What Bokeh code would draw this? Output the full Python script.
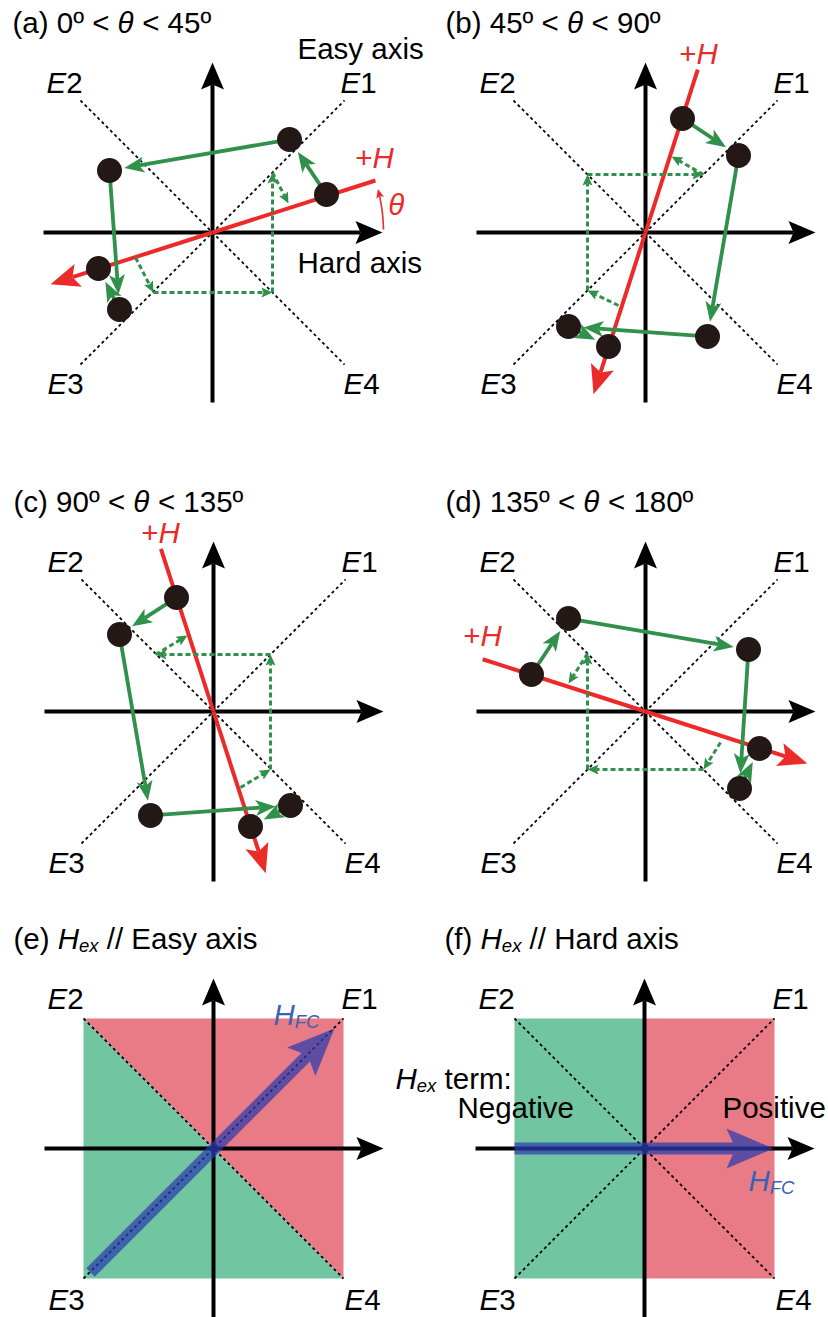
import math
import numpy as np
from bokeh.plotting import figure
from bokeh.models import Range1d
from bokeh.embed import file_html
from bokeh.resources import INLINE
from bokeh.core.properties import value

# ---------------- data ----------------
h_panels = ["a", "b", "c", "d"]
h_angle_deg = [17.7, 72.2, 107.9, 162.2]          # direction of +H in panels a-d

# magnetization states (black dots), local coords, in switching order
dots_a_x = [114, 77, -103, -93, -114]
dots_a_y = [38, 93, 62, -77, -36]
dots_b_x = [37, 93, 62, -77, -37]
dots_b_y = [114, 77, -104, -94, -114]
dots_c_x = [-37, -94, -63, 77, 37]
dots_c_y = [114, 77, -104, -94, -115]
dots_d_x = [-114, -77, 103, 94, 114]
dots_d_y = [37, 93, 62, -77, -37]

# projection path (green dashed arrows), local coords
proj_a_x = [-77, -59, 60, 60, 76]
proj_a_y = [-25, -60, -60, 60, 29]
proj_b_x = [-27, -58, -58, 58, 26]
proj_b_y = [-73, -58, 58, 58, 76]
proj_c_x = [27, 57, 57, -58, -26]
proj_c_y = [-76, -58, 57, 57, 76]
proj_d_x = [75, 58, -58, -58, -77]
proj_d_y = [-31, -58, -58, 58, 28]

easy_labels = ["1", "2", "3", "4"]

# H_FC arrows (panels e, f): tail -> tip, local coords
hfc_e = [(-123, -124), (121, 120)]
hfc_f = [(-130, 0), (129, 0)]

titles = {
    "a": [("(a) 0º < ", "n"), ("θ", "i"), (" < 45º", "n")],
    "b": [("(b) 45º < ", "n"), ("θ", "i"), (" < 90º", "n")],
    "c": [("(c) 90º < ", "n"), ("θ", "i"), (" < 135º", "n")],
    "d": [("(d) 135º < ", "n"), ("θ", "i"), (" < 180º", "n")],
    "e": [("(e) ", "n"), ("H", "i"), ("ex", "s"), (" // Easy axis", "n")],
    "f": [("(f) ", "n"), ("H", "i"), ("ex", "s"), (" // Hard axis", "n")],
}

# ---------------- layout / style ----------------
IMG_W, IMG_H = 828, 1317
centers = {"a": (212, 232), "b": (645, 232), "c": (213, 711),
           "d": (645, 711), "e": (213, 1148), "f": (644, 1148)}
RED = "#EC2A2A"
GREEN = "#30914A"
DOT = "#231815"
BLUE_TXT = "#3A62B4"
BLUE = "#2A3CAE"
FILL_RED = "#E97B86"
FILL_GREEN = "#72C5A1"
FONT = "Liberation Sans"
FS = 29.5
SUB = 18.5

W_EM = {' ': .278, '(': .333, ')': .333, 'a': .556, 'b': .556, 'c': .5, 'd': .556,
        'e': .556, 'f': .278, 'º': .365, '<': .584, 'θ': .556, 'E': .667, 'H': .722,
        'x': .5, '/': .278, 'y': .5, 's': .5, 'i': .222, 'r': .333, 't': .278,
        'm': .833, ':': .278, 'F': .611, 'C': .722, '+': .584, 'h': .556, 'k': .5,
        'N': .722, 'g': .556, 'v': .5, 'P': .667, 'o': .556}


def text_width(s, size):
    return sum(W_EM.get(ch, .556) for ch in s) * size


def gx(pid, lx):
    return centers[pid][0] + np.asarray(lx, dtype=float)


def gy(pid, ly):
    return IMG_H - centers[pid][1] + np.asarray(ly, dtype=float)


LINES = {k: {"xs": [], "ys": []} for k in ["diag", "axis", "red", "redthin", "gdash", "gsolid"]}
LINE_STYLE = {
    "diag": dict(line_color="black", line_width=1.8, line_dash="3 3"),
    "axis": dict(line_color="black", line_width=4),
    "red": dict(line_color=RED, line_width=4),
    "redthin": dict(line_color=RED, line_width=1.6),
    "gdash": dict(line_color=GREEN, line_width=3, line_dash="5 3"),
    "gsolid": dict(line_color=GREEN, line_width=3.8),
}
PATCHES = {k: {"xs": [], "ys": []} for k in ["fill_red", "fill_green", "axis", "red", "green", "blue"]}
PATCH_STYLE = {
    "fill_red": dict(fill_color=FILL_RED, line_color=None),
    "fill_green": dict(fill_color=FILL_GREEN, line_color=None),
    "axis": dict(fill_color="black", line_color=None),
    "red": dict(fill_color=RED, line_color=None),
    "green": dict(fill_color=GREEN, line_color=None),
    "blue": dict(fill_color=BLUE, fill_alpha=0.72, line_color=None),
}
T = {}


def add_line(key, xs, ys):
    LINES[key]["xs"].append(list(map(float, xs)))
    LINES[key]["ys"].append(list(map(float, ys)))


def add_patch(key, xs, ys):
    PATCHES[key]["xs"].append(list(map(float, xs)))
    PATCHES[key]["ys"].append(list(map(float, ys)))


def head_poly(tx, ty, ux, uy, L, W, N):
    nx, ny = -uy, ux
    bx, by = tx - L * ux, ty - L * uy
    xs = [tx, bx + W * nx, tx - (L - N) * ux, bx - W * nx]
    ys = [ty, by + W * ny, ty - (L - N) * uy, by - W * ny]
    return xs, ys


def arrow(lkey, hkey, x0, y0, x1, y1, L, W, N):
    dx, dy = x1 - x0, y1 - y0
    d = math.hypot(dx, dy)
    ux, uy = dx / d, dy / d
    add_line(lkey, [x0, x1 - (L - N) * ux], [y0, y1 - (L - N) * uy])
    add_patch(hkey, *head_poly(x1, y1, ux, uy, L, W, N))


def add_runs(x_left, y_mid, runs, color):
    x = float(x_left)
    for s, st in runs:
        if st == "s":
            style, size, dy = "italic", SUB, -7
        elif st == "i":
            style, size, dy = "italic", FS, 0
        else:
            style, size, dy = "normal", FS, 0
        lead = len(s) - len(s.lstrip(" "))
        x += text_width(" " * lead, size)
        s2 = s.lstrip(" ")
        key = (style, size, color)
        T.setdefault(key, {"x": [], "y": [], "text": []})
        T[key]["x"].append(x)
        T[key]["y"].append(float(y_mid + dy))
        T[key]["text"].append(s2)
        x += text_width(s2, size)


def runs_width(runs):
    tot = 0
    for s, st in runs:
        tot += text_width(s, SUB if st == "s" else FS)
    return tot


# ---------------- common frame for each panel ----------------
E_pos = [(146, 150), (-148, 150), (-147, -151), (149, -151)]
for pid in ["a", "b", "c", "d", "e", "f"]:
    half = 132 if pid in h_panels else 130
    if pid == "e":
        add_patch("fill_red", gx(pid, [-half, half, half]), gy(pid, [half, half, -half]))
        add_patch("fill_green", gx(pid, [-half, -half, half]), gy(pid, [half, -half, -half]))
    if pid == "f":
        add_patch("fill_green", gx(pid, [-half, 0, 0, -half]), gy(pid, [half, half, -half, -half]))
        add_patch("fill_red", gx(pid, [0, half, half, 0]), gy(pid, [half, half, -half, -half]))
    add_line("diag", gx(pid, [-half, half]), gy(pid, [half, -half]))
    add_line("diag", gx(pid, [-half, half]), gy(pid, [-half, half]))
    bottom = -176 if pid in ("e", "f") else -170
    arrow("axis", "axis", gx(pid, -169), gy(pid, 0), gx(pid, 170), gy(pid, 0), 27, 11.5, 5)
    arrow("axis", "axis", gx(pid, 0), gy(pid, bottom), gx(pid, 0), gy(pid, 170), 27, 11.5, 5)
    for lab, (lx, ly) in zip(easy_labels, E_pos):
        runs = [("E", "i"), (lab, "n")]
        w = runs_width(runs)
        add_runs(gx(pid, lx) - w / 2, gy(pid, ly), runs, "black")
    add_runs(gx(pid, -200), gy(pid, 210), titles[pid], "black")

# ---------------- field-rotation panels a-d ----------------
dots = {"a": (dots_a_x, dots_a_y), "b": (dots_b_x, dots_b_y),
        "c": (dots_c_x, dots_c_y), "d": (dots_d_x, dots_d_y)}
proj = {"a": (proj_a_x, proj_a_y), "b": (proj_b_x, proj_b_y),
        "c": (proj_c_x, proj_c_y), "d": (proj_d_x, proj_d_y)}
hlabel_pos = {"a": (162, 75), "b": (53, 179), "c": (-53, 179), "d": (-163, 76)}

dot_x, dot_y = [], []
for pid, ang in zip(h_panels, h_angle_deg):
    t = math.radians(ang)
    ux, uy = math.cos(t), math.sin(t)
    add_line("red", gx(pid, [0, 171 * ux]), gy(pid, [0, 171 * uy]))
    arrow("red", "red", gx(pid, 0), gy(pid, 0), gx(pid, -170 * ux), gy(pid, -170 * uy), 29, 12, 6)
    runs = [("+", "n"), ("H", "i")]
    w = runs_width(runs)
    hx, hy = hlabel_pos[pid]
    add_runs(gx(pid, hx) - w / 2, gy(pid, hy), runs, RED)
    px, py = proj[pid]
    for i in range(len(px) - 1):
        arrow("gdash", "green", gx(pid, px[i]), gy(pid, py[i]),
              gx(pid, px[i + 1]), gy(pid, py[i + 1]), 11, 5, 2)
    dx_, dy_ = dots[pid]
    for i in range(len(dx_) - 1):
        x0, y0, x1, y1 = dx_[i], dy_[i], dx_[i + 1], dy_[i + 1]
        d = math.hypot(x1 - x0, y1 - y0)
        vx, vy = (x1 - x0) / d, (y1 - y0) / d
        arrow("gsolid", "green", gx(pid, x0 + 8 * vx), gy(pid, y0 + 8 * vy),
              gx(pid, x1 - 15 * vx), gy(pid, y1 - 15 * vy), 20, 8, 5)
    dot_x.extend(gx(pid, dx_).tolist())
    dot_y.extend(gy(pid, dy_).tolist())

# angle arc + theta label in (a)
th = h_angle_deg[0]
r = 171
aL = 9
t_end = math.radians(th - 3)
tt = np.linspace(math.radians(1), t_end - (aL - 2) / r, 30)
add_line("redthin", gx("a", r * np.cos(tt)), gy("a", r * np.sin(tt)))
add_patch("red", *head_poly(float(gx("a", r * math.cos(t_end))), float(gy("a", r * math.sin(t_end))),
                            -math.sin(t_end), math.cos(t_end), aL, 4, 2))
tw = text_width("θ", FS)
add_runs(gx("a", 184) - tw / 2, gy("a", 28), [("θ", "i")], RED)
add_runs(gx("a", 85), gy("a", 184), [("Easy axis", "n")], "black")
add_runs(gx("a", 85), gy("a", -30), [("Hard axis", "n")], "black")


# ---------------- H_FC arrows (e, f) ----------------
def blue_arrow(pid, tail, tip, hw=6, L=47, W=20, N=9):
    x0, y0 = float(gx(pid, tail[0])), float(gy(pid, tail[1]))
    x1, y1 = float(gx(pid, tip[0])), float(gy(pid, tip[1]))
    d = math.hypot(x1 - x0, y1 - y0)
    ux, uy = (x1 - x0) / d, (y1 - y0) / d
    nx, ny = -uy, ux
    s = (L - N) + N * (hw / W)
    pts = [
        (x0 + hw * nx, y0 + hw * ny),
        (x1 - s * ux + hw * nx, y1 - s * uy + hw * ny),
        (x1 - L * ux + W * nx, y1 - L * uy + W * ny),
        (x1, y1),
        (x1 - L * ux - W * nx, y1 - L * uy - W * ny),
        (x1 - s * ux - hw * nx, y1 - s * uy - hw * ny),
        (x0 - hw * nx, y0 - hw * ny),
    ]
    add_patch("blue", [p_[0] for p_ in pts], [p_[1] for p_ in pts])


blue_arrow("e", hfc_e[0], hfc_e[1])
blue_arrow("f", hfc_f[0], hfc_f[1])
add_runs(gx("e", 60), gy("e", 134), [("H", "i"), ("FC", "s")], BLUE_TXT)
add_runs(gx("f", 104), gy("f", -32), [("H", "i"), ("FC", "s")], BLUE_TXT)
add_runs(gx("f", -249), gy("f", 70), [("H", "i"), ("ex", "s"), (" term:", "n")], "black")
add_runs(gx("f", -187), gy("f", 41), [("Negative", "n")], "black")
add_runs(gx("f", 78), gy("f", 41), [("Positive", "n")], "black")

# ---------------- render ----------------
p = figure(width=IMG_W, height=IMG_H, x_range=Range1d(0, IMG_W), y_range=Range1d(0, IMG_H),
           output_backend="svg", toolbar_location=None,
           x_axis_location=None, y_axis_location=None, min_border=0)
p.grid.visible = False
p.outline_line_color = None
p.background_fill_color = "white"
p.border_fill_color = "white"

for k in ["fill_red", "fill_green"]:
    p.patches(PATCHES[k]["xs"], PATCHES[k]["ys"], **PATCH_STYLE[k])
p.multi_line(LINES["diag"]["xs"], LINES["diag"]["ys"], **LINE_STYLE["diag"])
p.multi_line(LINES["axis"]["xs"], LINES["axis"]["ys"], **LINE_STYLE["axis"])
p.patches(PATCHES["axis"]["xs"], PATCHES["axis"]["ys"], **PATCH_STYLE["axis"])
p.multi_line(LINES["red"]["xs"], LINES["red"]["ys"], **LINE_STYLE["red"])
p.multi_line(LINES["redthin"]["xs"], LINES["redthin"]["ys"], **LINE_STYLE["redthin"])
p.patches(PATCHES["red"]["xs"], PATCHES["red"]["ys"], **PATCH_STYLE["red"])
p.multi_line(LINES["gdash"]["xs"], LINES["gdash"]["ys"], **LINE_STYLE["gdash"])
p.multi_line(LINES["gsolid"]["xs"], LINES["gsolid"]["ys"], **LINE_STYLE["gsolid"])
p.patches(PATCHES["green"]["xs"], PATCHES["green"]["ys"], **PATCH_STYLE["green"])
p.scatter(dot_x, dot_y, size=25, marker="circle", fill_color=DOT, line_color=None)
p.patches(PATCHES["blue"]["xs"], PATCHES["blue"]["ys"], **PATCH_STYLE["blue"])

for (style, size, color), d in T.items():
    p.text(x=d["x"], y=d["y"], text=d["text"], text_font=value(FONT),
           text_font_size=value(f"{size}px"), text_font_style=style,
           text_color=color, text_align="left", text_baseline="middle")

open("out.html", "w").write(file_html(p, INLINE))
